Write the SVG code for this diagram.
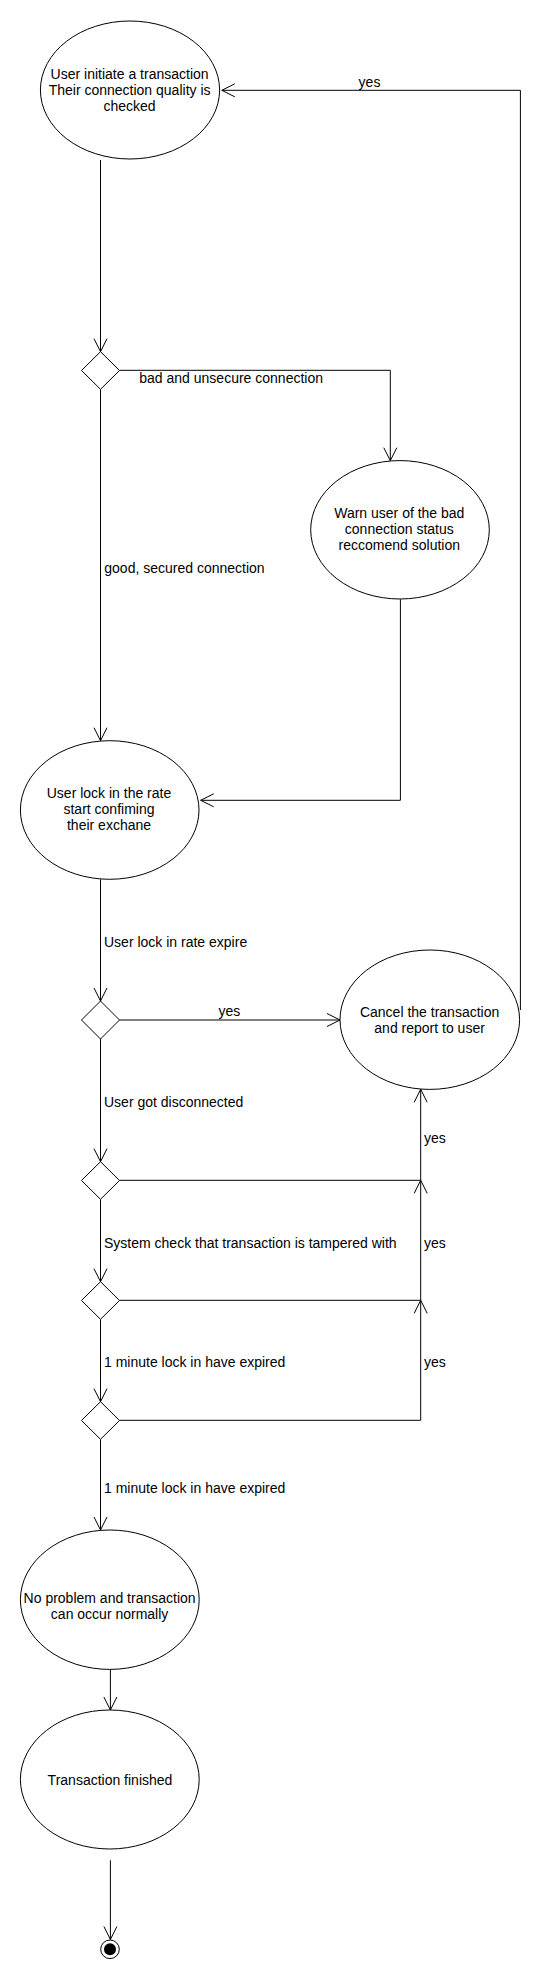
<svg xmlns="http://www.w3.org/2000/svg" width="560" height="1980" viewBox="0 0 560 1980">
<style>
  .node ellipse { fill: #ffffff; stroke: #000000; stroke-width: 1; }
  .node polygon { fill: #ffffff; stroke: #000000; stroke-width: 1; }
  .conn path { fill: none; stroke: #000000; stroke-width: 1; marker-end: url(#arr); }
  text { font-family: "Liberation Sans", Arial, sans-serif; font-size: 14px; fill: #000000; }
  .c { text-anchor: middle; }
</style>
<defs>
  <marker id="arr" markerUnits="userSpaceOnUse" markerWidth="18" markerHeight="18" viewBox="-15 -9 18 18" refX="0" refY="0" orient="auto">
    <path d="M-13,-6.5 L0,0 L-13,6.5" fill="none" stroke="#000000" stroke-width="1"/>
  </marker>
</defs>
<rect width="560" height="1980" fill="#ffffff"/>

<g id="connectors" class="conn">
  <path d="M100.5,160 V351.7"/>
  <path d="M119.5,370.3 H390.3 V460.7"/>
  <path d="M100.5,389.3 V740.7"/>
  <path d="M400.4,599.3 V800.3 H200.7"/>
  <path d="M100.5,879.3 V1001"/>
  <path d="M119.5,1020 H340"/>
  <path d="M520.4,1010 V90.3 H221.8"/>
  <path d="M100.5,1039 V1161.7"/>
  <path d="M119.5,1180.3 H420.7 V1089.3"/>
  <path d="M100.5,1199.3 V1281.7"/>
  <path d="M119.5,1300.3 H420.7 V1180.3"/>
  <path d="M100.5,1319.3 V1401.7"/>
  <path d="M119.5,1420.3 H420.7 V1300.3"/>
  <path d="M100.5,1439.3 V1530"/>
  <path d="M110.4,1669.3 V1710"/>
  <path d="M110.4,1860.3 V1939.5"/>
</g>

<g id="labels">
  <text x="369.5" y="86.7" class="c">yes</text>
  <text x="139.3" y="383.3">bad and unsecure connection</text>
  <text x="104.3" y="572.7">good, secured connection</text>
  <text x="104" y="947.3">User lock in rate expire</text>
  <text x="229.3" y="1015.7" class="c">yes</text>
  <text x="104" y="1107.3">User got disconnected</text>
  <text x="424" y="1142.7">yes</text>
  <text x="104" y="1247.7">System check that transaction is tampered with</text>
  <text x="424" y="1247.7">yes</text>
  <text x="104" y="1367.3">1 minute lock in have expired</text>
  <text x="424" y="1367.3">yes</text>
  <text x="104" y="1492.7">1 minute lock in have expired</text>
</g>

<g id="start" class="node">
  <ellipse cx="130" cy="90" rx="89.6" ry="69"/>
  <text x="129.6" y="79" class="c">User initiate a transaction</text>
  <text x="129.6" y="95" class="c">Their connection quality is</text>
  <text x="129.6" y="111" class="c">checked</text>
</g>

<g id="d1" class="node">
  <polygon points="100.5,351.7 119.5,370.5 100.5,389.3 81.5,370.5"/>
</g>

<g id="warn" class="node">
  <ellipse cx="400" cy="529.8" rx="89.3" ry="69.2"/>
  <text x="399.3" y="518.3" class="c">Warn user of the bad</text>
  <text x="399.3" y="534.3" class="c">connection status</text>
  <text x="399.3" y="550.3" class="c">reccomend solution</text>
</g>

<g id="lock" class="node">
  <ellipse cx="109.7" cy="810" rx="89.3" ry="69.3"/>
  <text x="109" y="798.3" class="c">User lock in the rate</text>
  <text x="109" y="814.3" class="c">start confiming</text>
  <text x="109" y="830.3" class="c">their exchane</text>
</g>

<g id="d2" class="node">
  <polygon points="100.5,1001 119.5,1020 100.5,1039 81.5,1020"/>
</g>

<g id="cancel" class="node">
  <ellipse cx="429.8" cy="1019.7" rx="89.8" ry="69.7"/>
  <text x="429.6" y="1016.7" class="c">Cancel the transaction</text>
  <text x="429.6" y="1032.7" class="c">and report to user</text>
</g>

<g id="d3" class="node">
  <polygon points="100.5,1161.7 119.5,1180.5 100.5,1199.3 81.5,1180.5"/>
</g>

<g id="d4" class="node">
  <polygon points="100.5,1281.7 119.5,1300.5 100.5,1319.3 81.5,1300.5"/>
</g>

<g id="d5" class="node">
  <polygon points="100.5,1401.7 119.5,1420.5 100.5,1439.3 81.5,1420.5"/>
</g>

<g id="normal" class="node">
  <ellipse cx="109.8" cy="1599.7" rx="89.4" ry="69.7"/>
  <text x="109.6" y="1602.7" class="c">No problem and transaction</text>
  <text x="109.6" y="1618.7" class="c">can occur normally</text>
</g>

<g id="finished" class="node">
  <ellipse cx="109.8" cy="1779.5" rx="89.4" ry="69.5"/>
  <text x="110" y="1785" class="c">Transaction finished</text>
</g>

<g id="end">
  <circle cx="110" cy="1949.3" r="9.3" fill="#ffffff" stroke="#000000" stroke-width="1"/>
  <circle cx="110" cy="1949.3" r="6" fill="#000000"/>
</g>
</svg>
